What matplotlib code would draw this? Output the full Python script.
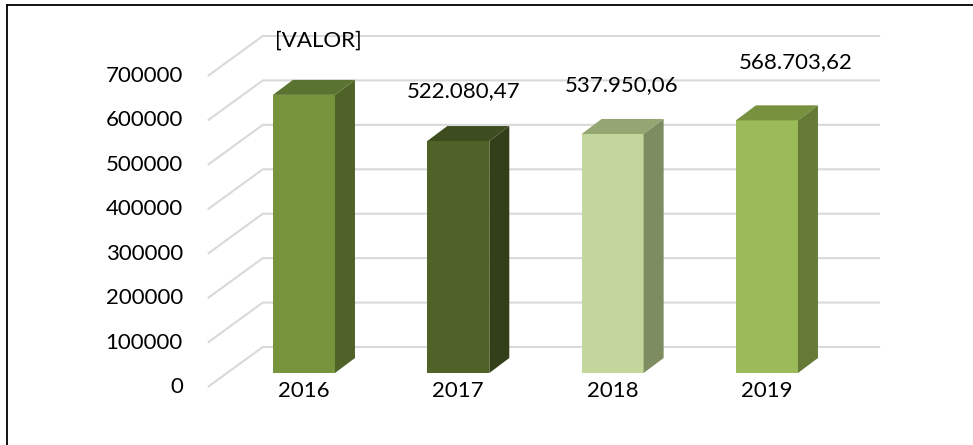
import matplotlib
matplotlib.use("Agg")
import matplotlib.pyplot as plt
from matplotlib.patches import Polygon
from matplotlib.lines import Line2D

plt.rcParams['font.family'] = ['Lato', 'DejaVu Sans']

# data
years = ['2016', '2017', '2018', '2019']
values = [626000, 522080.47, 537950.06, 568703.62]
value_labels = ['[VALOR]', '522.080,47', '537.950,06', '568.703,62']
yticks = [0, 100000, 200000, 300000, 400000, 500000, 600000, 700000]

# face colours per bar: front, top, side
front_colors = ['#77933c', '#4f6228', '#c3d69b', '#9bbb59']
top_colors = ['#5b7330', '#3e4d1f', '#94a672', '#77913f']
side_colors = ['#4f6228', '#333f19', '#7e8c61', '#667a37']

# small nudges (pixels) for the value labels
label_dx = [14, 5, 9, 29]
label_dy = [54, 50, 49, 58]

W_PX, H_PX = 973, 445
fig = plt.figure(figsize=(W_PX / 100, H_PX / 100), dpi=100)

# axes sits in the plane of the bar fronts
ax_left, ax_right = 226.8, 844.1
ax_bottom, ax_top = 373, 62
ax = fig.add_axes([ax_left / W_PX, (H_PX - ax_bottom) / H_PX,
                   (ax_right - ax_left) / W_PX, (ax_bottom - ax_top) / H_PX])
ax.set_xlim(-0.5, 3.5)
ax.set_ylim(0, 700000)
ax.axis('off')

# pixel -> data conversion for the fake 3D depth
px_x = 4 / (ax_right - ax_left)
px_y = 700000 / (ax_bottom - ax_top)

wall = (36, 26)    # back wall offset from bar front plane
floor = (-19, -14) # front edge of the floor
depth = (20, 15)   # bar depth

# gridlines: slanted on the side wall, flat on the back wall
for v in yticks:
    xs = [-0.5 + floor[0] * px_x, -0.5 + wall[0] * px_x, 3.5 + wall[0] * px_x]
    ys = [v + floor[1] * px_y, v + wall[1] * px_y, v + wall[1] * px_y]
    ax.plot(xs, ys, color='#d9d9d9', lw=1.5, clip_on=False, zorder=1,
            solid_capstyle='butt')
    ax.text(-0.5 + (floor[0] - 25) * px_x, v + floor[1] * px_y, str(v),
            ha='right', va='center', fontsize=16, color='black')

bw = 0.402
dx, dy = depth[0] * px_x, depth[1] * px_y
x = list(range(len(years)))
ax.bar(x, values, width=bw, color=front_colors, zorder=3, clip_on=False)

for i, v in enumerate(values):
    l, r = i - bw / 2, i + bw / 2
    top = Polygon([(l, v), (r, v), (r + dx, v + dy), (l + dx, v + dy)],
                  closed=True, facecolor=top_colors[i], edgecolor='none',
                  zorder=3, clip_on=False)
    side = Polygon([(r, 0), (r + dx, dy), (r + dx, v + dy), (r, v)],
                   closed=True, facecolor=side_colors[i], edgecolor='none',
                   zorder=3, clip_on=False)
    ax.add_patch(top)
    ax.add_patch(side)

    ax.text(i + label_dx[i] * px_x, v + label_dy[i] * px_y, value_labels[i],
            ha='center', va='center', fontsize=16, color='black', zorder=5)
    ax.text(i, -18 * px_y, years[i], ha='center', va='center',
            fontsize=16, color='black', zorder=5)

# chart area border (only the top and left edges fall inside the image)
fig.add_artist(Line2D([7 / W_PX, 1.0], [1 - 4.5 / H_PX, 1 - 4.5 / H_PX],
                      color='black', lw=1.3, transform=fig.transFigure))
fig.add_artist(Line2D([7 / W_PX, 7 / W_PX], [0.0, 1 - 4.5 / H_PX],
                      color='black', lw=1.3, transform=fig.transFigure))

fig.savefig('out.png', dpi=100, facecolor='white')
